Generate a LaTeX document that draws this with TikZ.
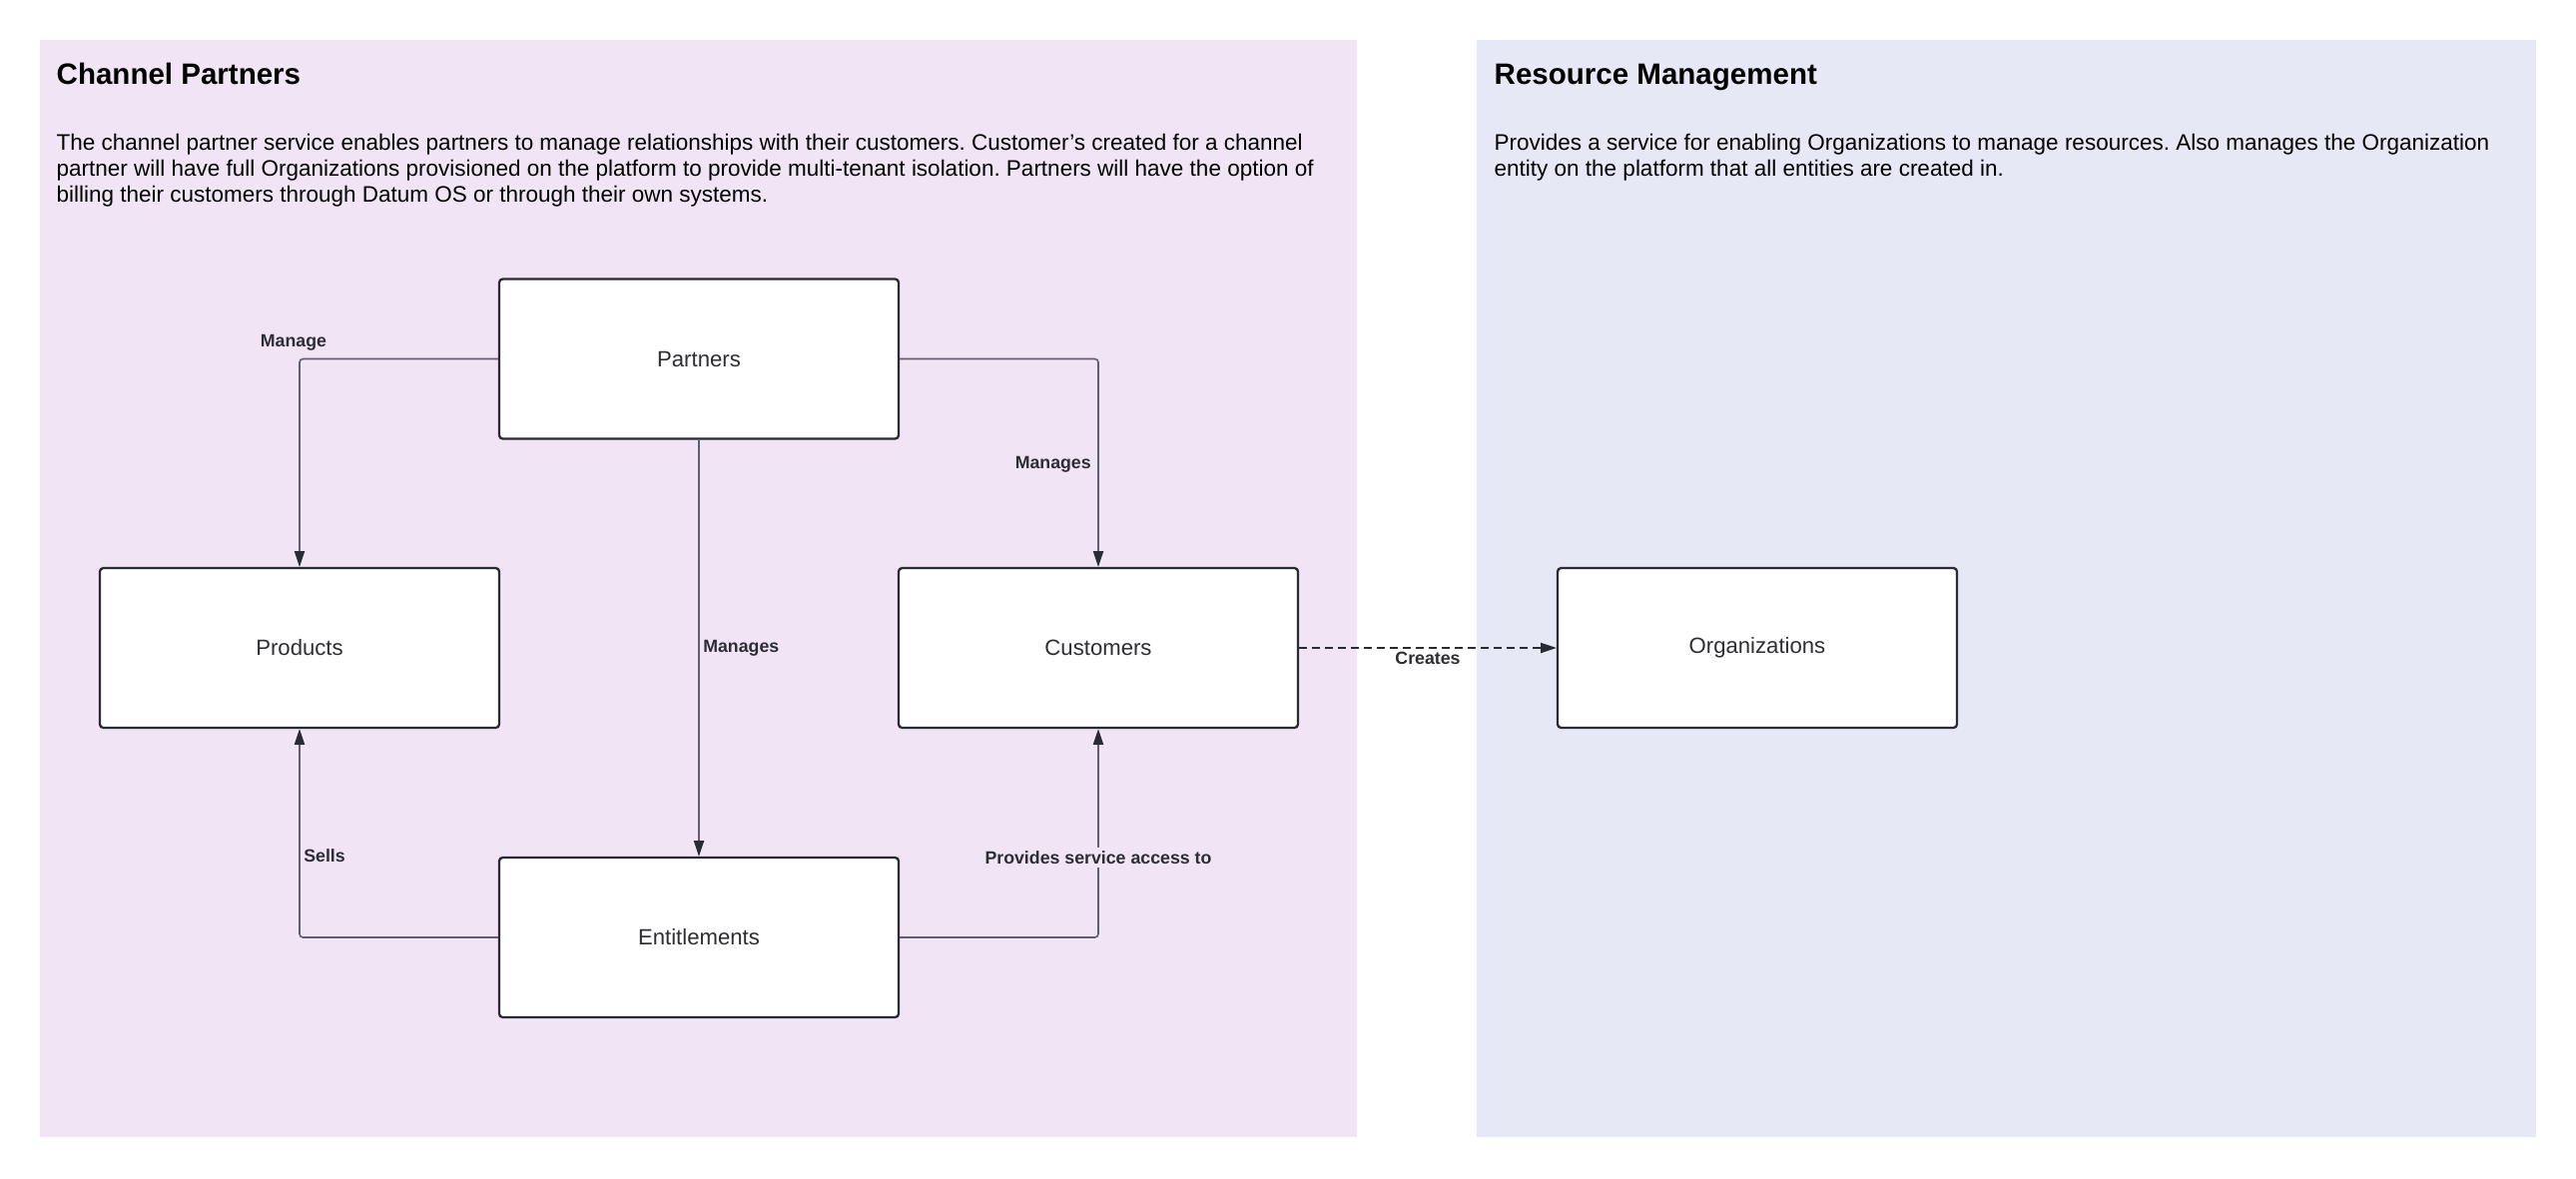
\documentclass[tikz,border=0pt]{standalone}
\usepackage{fontspec}
\setmainfont{Liberation Sans}
\usetikzlibrary{arrows.meta}
\definecolor{cpbg}{RGB}{241,228,245}
\definecolor{rmbg}{RGB}{230,232,245}
\definecolor{boxline}{RGB}{40,42,52}
\definecolor{wire}{RGB}{95,93,112}
\definecolor{labtext}{RGB}{45,45,52}
\frenchspacing
\begin{document}
\begin{tikzpicture}[
    entity/.style={draw=boxline,line width=0.65pt,fill=white,rounded corners=1pt,minimum width=4cm,minimum height=1.6cm,inner sep=0pt,font=\fontsize{6.3}{7.5}\selectfont,text=labtext},
    heading/.style={anchor=base west,inner sep=0pt,font=\bfseries\fontsize{8.4}{10}\selectfont},
    blurb/.style={anchor=north west,inner sep=0pt,align=left,font=\fontsize{6.4}{7.5}\selectfont},
    link/.style={draw=wire,line width=0.45pt,rounded corners=1pt,-{Triangle[length=4.5pt,width=2.9pt,color=boxline]}},
    verb/.style={font=\bfseries\fontsize{5.05}{6}\selectfont,text=labtext,inner sep=1pt}]
    \useasboundingbox(0,0)rectangle(25.8,-11.8);
    \fill[cpbg](0.395,-0.395)rectangle(13.59,-11.39);
    \fill[rmbg](14.79,-0.395)rectangle(25.40,-11.39);
    \node[heading](cph)at(0.56,-0.846){Channel Partners};
    \node[blurb](cpt)at(0.56,-1.33){The channel partner service enables partners to manage relationships with their customers. Customer's created for a channel\\
        partner will have full Organizations provisioned on the platform to provide multi-tenant isolation. Partners will have the option of\\
        billing their customers through Datum OS or through their own systems.};
    \node[heading](rmh)at(14.96,-0.846){Resource Management};
    \node[blurb](rmt)at(14.96,-1.33){Provides a service for enabling Organizations to manage resources. Also manages the Organization\\
        entity on the platform that all entities are created in.};
    \node[entity](part)at(7,-3.595){Partners};
    \node[entity](prod)at(3,-6.49){Products};
    \node[entity](cust)at(11,-6.49){Customers};
    \node[entity](ent)at(7,-9.39){Entitlements};
    \node[entity](org)at(17.6,-6.49){Organizations};
    \draw[link](part.west)-|(prod.north)node[verb,pos=0.5,above,xshift=-0.06cm,yshift=0.04cm]{Manage};
    \draw[link](part.east)-|(cust.north)node[verb,pos=0.754,left,xshift=-0.03cm]{Manages};
    \draw[link](part)--(ent)node[verb,midway,right]{Manages};
    \draw[link](ent.west)-|(prod.south)node[verb,pos=0.697,right]{Sells};
    \draw[link](ent.east)-|(cust.south)node[verb,pos=0.692,fill=cpbg]{Provides service access to};
    \draw[link,draw=boxline,dash pattern=on 2.3pt off 1.4pt](cust)--(org)node[verb,midway,below]{Creates};
\end{tikzpicture}
\end{document}
